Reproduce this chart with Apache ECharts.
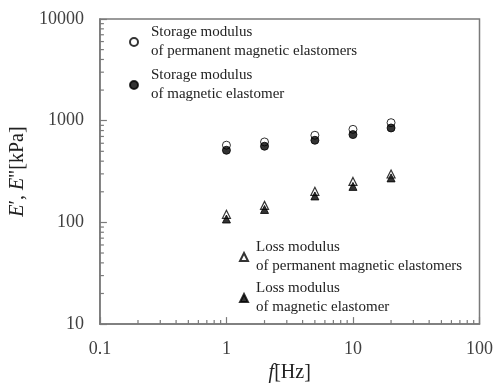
<!DOCTYPE html>
<html><head><meta charset="utf-8">
<script src="https://cdn.jsdelivr.net/npm/echarts@6/dist/echarts.min.js"></script>
<style>html,body{margin:0;padding:0;background:#fff}#c{width:496px;height:388px}</style>
</head><body><div id="c"></div>
<script>
var freq = [1, 2, 5, 10, 20];
var storagePermanent = [574, 618, 719, 822, 956];
var storageMagnetic = [512, 561, 642, 730, 848];
var lossPermanent = [120, 147, 202, 253, 299];
var lossMagnetic = [108, 134, 182, 226, 274];
var xMinorTicks = [0.2,0.3,0.4,0.5,0.6,0.7,0.8,0.9,2,3,4,5,6,7,8,9,20,30,40,50,60,70,80,90];
var yMinorTicks = [20,30,40,50,60,70,80,90,200,300,400,500,600,700,800,900,2000,3000,4000,5000,6000,7000,8000,9000];
var names = ['Storage modulus\nof permanent magnetic elastomers','Storage modulus\nof magnetic elastomer','Loss modulus\nof permanent magnetic elastomers','Loss modulus\nof magnetic elastomer'];

var serif = "'Liberation Serif','Times New Roman',serif";
function pairs(ys){ return freq.map(function(f,i){return [f, ys[i]];}); }
var axisColor = '#7a7a7a';
var chart = echarts.init(document.getElementById('c'));
chart.setOption({
  animation: false,
  backgroundColor: '#fff',
  grid: {left: 99, top: 19, right: 15, bottom: 62, show: true, borderColor: axisColor, borderWidth: 1.5, backgroundColor: 'transparent'},
  xAxis: {type: 'log', logBase: 10, min: 0.1, max: 100,
    axisLine: {lineStyle: {color: axisColor, width: 1.5}},
    axisTick: {inside: true, length: 7, lineStyle: {color: axisColor, width: 1.2}},
    splitLine: {show: false},
    axisLabel: {margin: 16, fontFamily: serif, fontSize: 18, color: '#404040', formatter: function(v){return String(v);}},
    name: '{i|f}[Hz]', nameLocation: 'middle', nameGap: 38,
    nameTextStyle: {fontFamily: serif, fontSize: 20, color: '#222', rich: {i: {fontFamily: serif, fontStyle: 'italic', fontSize: 20, color: '#222'}}}
  },
  yAxis: {type: 'log', logBase: 10, min: 10, max: 10000,
    axisLine: {lineStyle: {color: axisColor, width: 1.5}},
    axisTick: {inside: true, length: 7, lineStyle: {color: axisColor, width: 1.2}},
    splitLine: {show: false},
    axisLabel: {margin: 16, fontFamily: serif, fontSize: 18, color: '#404040', formatter: function(v){return String(v);}},
    name: '{i|E}\u2032, {i|E}"[kPa]', nameLocation: 'middle', nameGap: 63, nameRotate: 90,
    nameTextStyle: {fontFamily: serif, fontSize: 20, color: '#222', rich: {i: {fontFamily: serif, fontStyle: 'italic', fontSize: 20, color: '#222'}}}
  },
  legend: [
    {data: [names[0], names[1]], orient: 'vertical', left: 129, top: 23, padding: 0, itemGap: 5, itemWidth: 8, itemHeight: 8,
     textStyle: {fontFamily: serif, fontSize: 15, lineHeight: 19, color: '#222', padding: [0,0,0,8]}},
    {data: [names[2], names[3]], orient: 'vertical', left: 239, top: 238, padding: 0, itemGap: 3, itemWidth: 8, itemHeight: 8,
     textStyle: {fontFamily: serif, fontSize: 15, lineHeight: 19, color: '#222', padding: [0,0,0,3]}}
  ],
  series: [
    {name: names[0], type: 'scatter', symbol: 'circle', symbolSize: 8, data: pairs(storagePermanent),
     itemStyle: {color: '#fff', borderColor: '#000', borderWidth: 1}},
    {name: names[1], type: 'scatter', symbol: 'circle', symbolSize: 8, data: pairs(storageMagnetic),
     itemStyle: {color: '#000', borderColor: '#000', borderWidth: 1}},
    {name: names[2], type: 'scatter', symbol: 'triangle', symbolSize: 8, data: pairs(lossPermanent),
     itemStyle: {color: '#fff', borderColor: '#000', borderWidth: 1.2}},
    {name: names[3], type: 'scatter', symbol: 'triangle', symbolSize: 8, data: pairs(lossMagnetic),
     itemStyle: {color: '#000', borderColor: '#000', borderWidth: 1}},
    {type: 'custom', silent: true, z: 1, data: xMinorTicks.map(function(v){return [v, 10];}),
     renderItem: function(params, api){
       var p = api.coord([api.value(0), 10]);
       return {type: 'line', shape: {x1: p[0], y1: p[1], x2: p[0], y2: p[1]-4}, style: {stroke: axisColor, lineWidth: 1.2}};
     }},
    {type: 'custom', silent: true, z: 1, data: yMinorTicks.map(function(v){return [0.1, v];}),
     renderItem: function(params, api){
       var p = api.coord([0.1, api.value(1)]);
       return {type: 'line', shape: {x1: p[0], y1: p[1], x2: p[0]+4, y2: p[1]}, style: {stroke: axisColor, lineWidth: 1.2}};
     }}
  ]
});
</script></body></html>
